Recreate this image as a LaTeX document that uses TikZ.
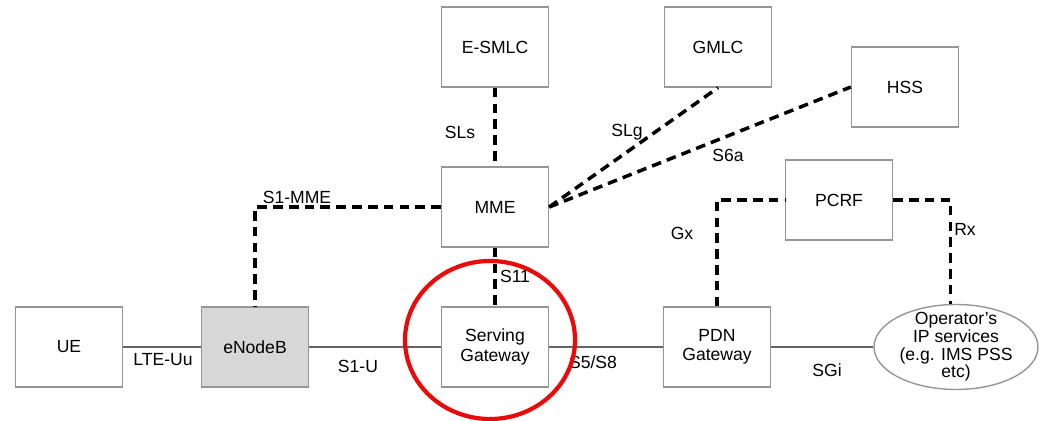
\documentclass[tikz,border=0pt]{standalone}
\usepackage{fontspec}
\setmainfont{Liberation Sans}
\usetikzlibrary{shapes.geometric}
\definecolor{boxGray}{RGB}{150,150,150}
\definecolor{linkGray}{RGB}{100,100,100}
\definecolor{enbFill}{RGB}{215,215,215}
\definecolor{circRed}{RGB}{235,10,10}

\begin{document}
\begin{tikzpicture}[x=0.02cm,y=-0.02cm,
    netbox/.style={draw=boxGray, line width=0.8pt, minimum width=2.14cm,
      minimum height=1.6cm, align=center, font=\fontsize{10}{11}\selectfont},
    iface/.style={black, line width=2pt, dash pattern=on 5.5pt off 3.5pt},
    link/.style={linkGray, line width=1pt},
    lbl/.style={font=\fontsize{10}{11}\selectfont, text=black}]
        \useasboundingbox (0,0) rectangle (1043,421);
        % user plane
        \node[netbox] (ue) at (69,347) {UE};
        \node[netbox, fill=enbFill] (enb) at (255,347) {eNodeB};
        \node[netbox] (sgw) at (495,347) {Serving\\Gateway};
        \node[netbox] (pgw) at (717,347) {PDN\\Gateway};
        \node[ellipse, draw=boxGray, line width=0.8pt, minimum width=3.28cm,
          minimum height=1.7cm, inner sep=0pt] (ops) at (956,347) {};
        \node[lbl, align=center, font=\fontsize{10}{10}\selectfont] (opsText) at (ops.center)
          {Operator's\\IP services\\(e.g. IMS PSS\\etc)};
        % control plane
        \node[netbox] (mme) at (495,207) {MME};
        \node[netbox] (esmlc) at (495,47) {E-SMLC};
        \node[netbox] (gmlc) at (718,47) {GMLC};
        \node[netbox] (hss) at (905,87) {HSS};
        \node[netbox] (pcrf) at (839,200) {PCRF};

        \draw[link] (ue) -- (enb);
        \draw[link] (enb) -- (sgw);
        \draw[link] (sgw) -- (pgw);
        \draw[link] (pgw) -- (ops);

        \draw[iface] (esmlc) -- (mme);
        \draw[iface] (mme.east) -- (gmlc.south);
        \draw[iface] (mme.east) -- (hss.west);
        \draw[iface] (mme.west) -| (enb.north);
        \draw[iface] (mme) -- (sgw);
        \draw[iface] (pgw.north) |- (pcrf.west);
        \draw[iface] (pcrf.east) -| (ops.97);

        % interface names
        \node[lbl] (lteuu) at (163,360) {LTE-Uu};
        \node[lbl] (s1u) at (358,366) {S1-U};
        \node[lbl] (s5s8) at (593,362) {S5/S8};
        \node[lbl] (sgi) at (827,370) {SGi};
        \node[lbl] (gx) at (682,233) {Gx};
        \node[lbl] (rx) at (965,229) {Rx};
        \node[lbl] (s6a) at (728,155) {S6a};
        \node[lbl] (slg) at (627,132) {SLg};
        \node[lbl] (sls) at (460,132) {SLs};
        \node[lbl] (s1mme) at (297,197) {S1-MME};
        \node[lbl] (s11) at (515,276) {S11};

        \draw[circRed, line width=2.4pt] (490,340) ellipse [x radius=85, y radius=79];
      \end{tikzpicture}
\end{document}
